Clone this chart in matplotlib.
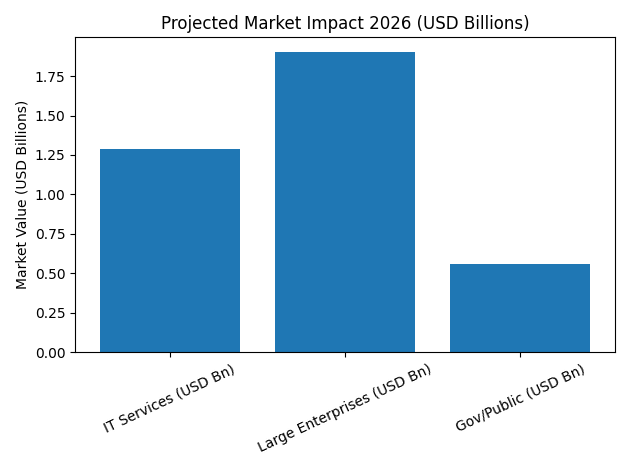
import matplotlib
matplotlib.use("Agg")
import matplotlib.pyplot as plt

categories = ["IT Services (USD Bn)", "Large Enterprises (USD Bn)", "Gov/Public (USD Bn)"]
values = [1.29, 1.90, 0.56]

fig, ax = plt.subplots(figsize=(6.3, 4.7), dpi=100)
ax.bar(categories, values, color="#1f77b4")
ax.set_title("Projected Market Impact 2026 (USD Billions)")
ax.set_ylabel("Market Value (USD Billions)")
plt.setp(ax.get_xticklabels(), rotation=25)
fig.tight_layout()
fig.savefig("out.png")
